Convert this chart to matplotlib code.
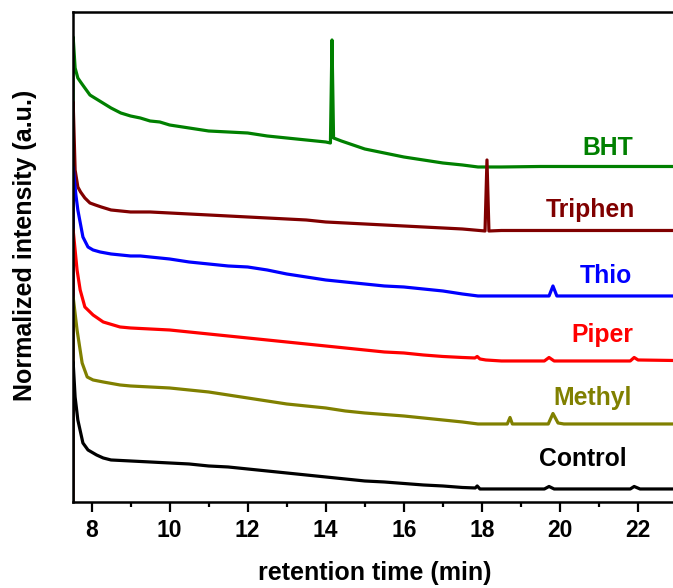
import matplotlib
matplotlib.use("Agg")
import matplotlib.pyplot as plt
from matplotlib.ticker import MultipleLocator

plt.rcParams['font.family'] = ['Liberation Sans', 'DejaVu Sans']
plt.rcParams['font.weight'] = 'bold'

# ---------------- data (retention time in min, normalized intensity in a.u., offset traces) ----------------
bht_t = [7.518, 7.53, 7.58, 7.65, 7.72, 7.83, 7.96,
         8.0, 8.25, 8.5, 8.75, 9.0, 9.25, 9.5, 9.75, 10.0, 10.25, 10.5, 10.75, 11.0, 11.25, 11.5, 11.75,
         12.0, 12.25, 12.5, 12.75, 13.0, 13.25, 13.5, 13.75, 14.0, 14.12, 14.16, 14.20,
         14.4, 14.7, 15.0, 15.5, 16.0, 16.5, 17.0, 17.5, 17.9, 18.5, 19.5, 20.5, 21.5, 22.9]
bht_y = [0, 465, 434, 424, 420, 414, 407,
         406, 400, 394, 389, 386, 384, 381, 380, 377, 375.5, 374, 372.5, 371, 370.5, 370, 369.5,
         369, 367.5, 366, 365, 364, 363, 362, 361, 360, 359, 462, 364,
         361, 357, 353, 349, 345, 342, 339, 337, 335, 335, 335.5, 335.5, 335.5, 335.5]

triphen_t = [7.518, 7.53, 7.58, 7.65, 7.72, 7.83, 7.96, 8.1, 8.25, 8.5, 8.75, 9.0, 9.5, 10.0, 10.5,
             11.0, 11.5, 12.0, 12.5, 13.0, 13.5, 14.0, 14.5, 15.0, 15.5, 16.0, 16.5, 17.0, 17.5,
             18.08, 18.13, 18.18, 18.5, 19.0, 20.0, 21.5, 22.9]
triphen_y = [0, 400, 332, 315, 310, 304, 299, 297, 295, 292, 291, 290, 290, 289, 288,
             287, 286, 285, 284, 283, 282, 280, 279, 278, 277, 276, 275, 274, 273,
             271, 342, 271, 271.5, 271.5, 271.5, 271.5, 271.5]

thio_t = [7.518, 7.53, 7.6, 7.65, 7.78, 7.91, 8.04, 8.22, 8.5, 8.75, 9.0, 9.25, 9.5, 10.0, 10.5,
          11.0, 11.5, 12.0, 12.5, 13.0, 13.5, 14.0, 14.5, 15.0, 15.5, 16.0, 16.5, 17.0, 17.5,
          17.9, 18.5, 19.72, 19.82, 19.92, 21.0, 22.9]
thio_y = [0, 335, 307, 292, 265, 255, 252, 250, 248, 247, 246, 246, 245, 243, 240,
          238, 236, 235, 232, 228, 225, 222, 220, 218, 216, 215, 213, 211, 208,
          206, 206, 206, 216, 206, 206, 206]

piper_t = [7.518, 7.53, 7.63, 7.71, 7.83, 8.04, 8.3, 8.73, 9.0, 9.5, 10.0, 10.5, 11.0, 11.5,
           12.0, 12.5, 13.0, 13.5, 14.0, 14.5, 15.0, 15.5, 16.0, 16.5, 17.0, 17.5, 17.82, 17.88,
           17.95, 18.1, 18.5, 19.6, 19.72, 19.85, 21.8, 21.9, 22.0, 22.9]
piper_y = [0, 272, 232, 212, 195, 187, 180, 175, 174, 173, 172, 170, 168, 166,
           164, 162, 160, 158, 156, 154, 152, 150, 149, 147, 145.5, 144.5, 144, 145.5,
           143, 142, 141, 141, 144.5, 141, 141, 144.5, 142, 141.5]

methyl_t = [7.518, 7.53, 7.63, 7.76, 7.89, 8.04, 8.3, 8.73, 9.0, 9.5, 10.0, 10.5, 11.0, 11.5,
            12.0, 12.5, 13.0, 13.5, 14.0, 14.5, 15.0, 15.5, 16.0, 16.5, 17.0, 17.5, 17.9,
            18.65, 18.72, 18.78, 19.7, 19.82, 19.95, 20.1, 22.9]
methyl_y = [0, 205, 172, 139, 125, 122, 120, 117, 116, 115, 114, 112, 110, 107,
            104, 101, 98, 96, 94, 91, 89, 87.5, 86, 84, 82, 80, 78,
            78, 84.5, 78, 78, 88.5, 79, 78, 78]

control_t = [7.518, 7.53, 7.58, 7.65, 7.78, 7.91, 8.13, 8.3, 8.5, 8.75, 9.0, 9.5, 10.0, 10.5,
             11.0, 11.5, 12.0, 12.5, 13.0, 13.5, 14.0, 14.5, 15.0, 15.5, 16.0, 16.5, 17.0, 17.5,
             17.83, 17.88, 17.95, 18.1, 19.6, 19.72, 19.85, 21.8, 21.9, 22.05, 22.9]
control_y = [0, 140, 105, 82, 59, 52, 47, 44, 42, 41.5, 41, 40, 39, 38,
             36, 35, 33, 31, 29, 27, 25, 23, 21, 20, 18.5, 17, 16, 14.5,
             14, 16, 13, 13, 13, 15.5, 13, 13, 15.5, 13, 13]

series_names = ["BHT", "Triphen", "Thio", "Piper", "Methyl", "Control"]
series_colors = ["#008000", "#800000", "#0000FF", "#FF0000", "#808000", "#000000"]
series_t = [bht_t, triphen_t, thio_t, piper_t, methyl_t, control_t]
series_y = [bht_y, triphen_y, thio_y, piper_y, methyl_y, control_y]
# label anchor (time, intensity) for each trace name
label_t = [21.22, 20.78, 21.18, 21.09, 20.83, 20.59]
label_y = [347, 285, 219, 160, 97, 36]

x_ticks = [8, 10, 12, 14, 16, 18, 20, 22]

# ---------------- figure ----------------
fig = plt.figure(figsize=(6.73, 5.88), dpi=100)
ax = fig.add_axes([0.108, 0.1463, 0.892, 0.8328])

for t, y, c in zip(series_t, series_y, series_colors):
    ax.plot(t, y, color=c, lw=2.3, solid_joinstyle='round')

for name, c, lt, ly in zip(series_names, series_colors, label_t, label_y):
    ax.text(lt, ly, name, color=c, fontsize=17.8, fontweight='bold',
            ha='center', va='baseline')

ax.set_xlim(7.518, 22.895)
ax.set_ylim(0, 489.7)
ax.set_xticks(x_ticks)
ax.xaxis.set_minor_locator(MultipleLocator(1))
ax.set_yticks([])
ax.spines['right'].set_visible(False)
for s in ['left', 'bottom', 'top']:
    ax.spines[s].set_linewidth(1.8)
ax.tick_params(axis='x', which='major', direction='out', length=7.2, width=1.6,
               labelsize=16.5, pad=5)
ax.tick_params(axis='x', which='minor', direction='out', length=3.8, width=1.6)
for lab in ax.get_xticklabels():
    lab.set_fontweight('bold')

fig.text(375 / 673, 1 - 580 / 588, "retention time (min)", fontsize=18, fontweight='bold',
         ha='center', va='baseline')
fig.text(25 / 673, 1 - 245 / 588, "Normalized intensity (a.u.)", fontsize=18,
         fontweight='bold', rotation=90, ha='center', va='center')

fig.savefig("out.png", dpi=100)
